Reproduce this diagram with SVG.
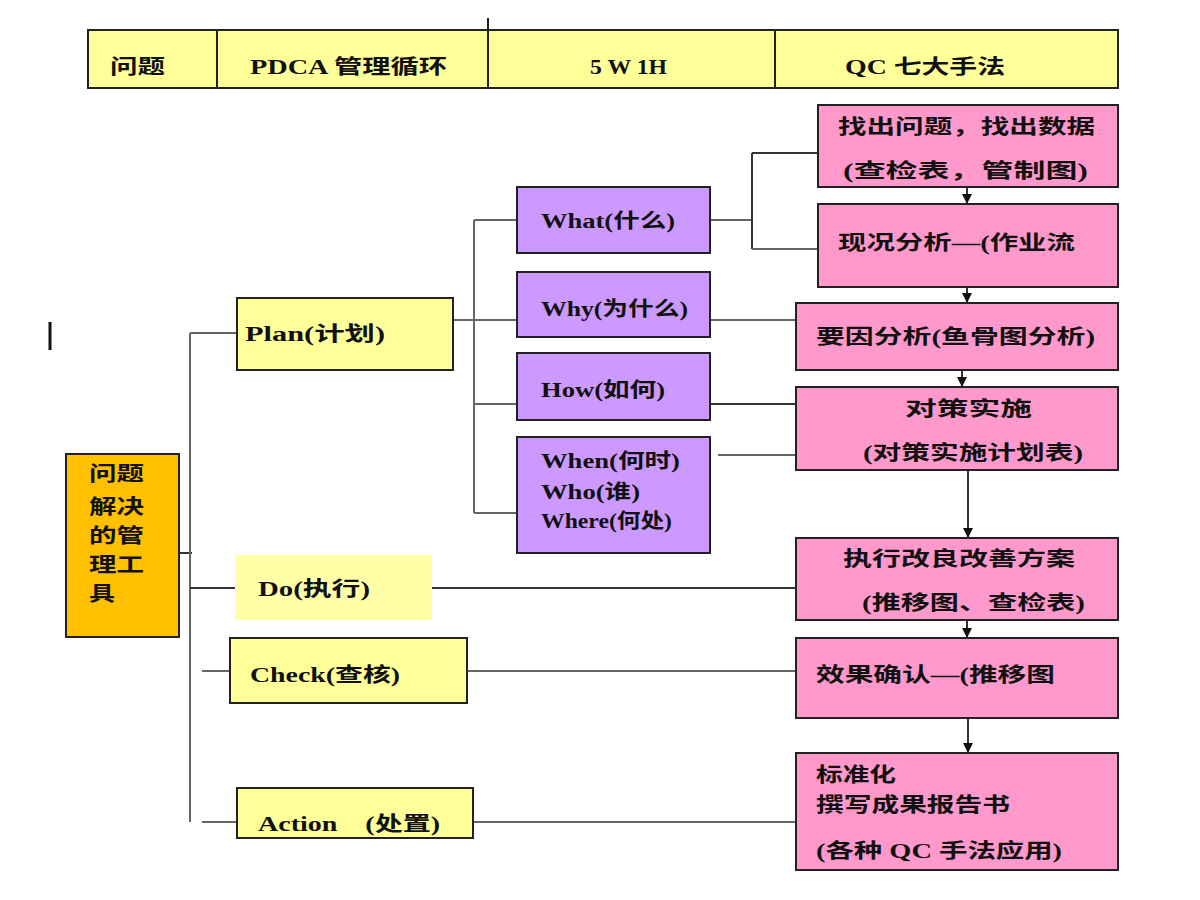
<svg xmlns="http://www.w3.org/2000/svg" width="1200" height="900" viewBox="0 0 1200 900">
<style>
text{font-family:"Liberation Serif","Noto Sans CJK SC",serif;font-weight:bold;font-size:20px;fill:#111}
.b{stroke:#222;stroke-width:2}
.y{fill:#FFFF99}
.p{fill:#CC99FF}
.k{fill:#FF99CC}
.c{stroke:#333;stroke-width:2;fill:none}
.cg{stroke:#666;stroke-width:2;fill:none}
</style>
<defs>
<marker id="ar" viewBox="0 0 10 10" refX="9" refY="5" markerWidth="5" markerHeight="5" orient="auto"><path d="M0,0 L10,5 L0,10 z" fill="#111"/></marker>
</defs>
<rect width="1200" height="900" fill="#fff"/>
<g id="header">
<rect x="88" y="30" width="1030" height="58" class="y b"/>
<line x1="217" y1="30" x2="217" y2="88" class="b"/>
<line x1="488" y1="18" x2="488" y2="88" class="b"/>
<line x1="775" y1="30" x2="775" y2="88" class="b"/>
<text x="110" y="74" textLength="55" lengthAdjust="spacingAndGlyphs">问题</text>
<text x="250" y="74" textLength="197" lengthAdjust="spacingAndGlyphs">PDCA 管理循环</text>
<text x="590" y="74" textLength="77" lengthAdjust="spacingAndGlyphs">5 W 1H</text>
<text x="845" y="74" textLength="160" lengthAdjust="spacingAndGlyphs">QC 七大手法</text>
</g>
<g id="connectors">
<line x1="50" y1="322" x2="50" y2="350" stroke="#111" stroke-width="3"/>
<line x1="173" y1="553" x2="192" y2="553" class="c"/>
<line x1="190" y1="333" x2="190" y2="822" class="cg"/>
<line x1="190" y1="333" x2="237" y2="333" class="cg"/>
<line x1="190" y1="588" x2="237" y2="588" class="c"/>
<line x1="202" y1="671" x2="230" y2="671" class="cg"/>
<line x1="202" y1="822" x2="237" y2="822" class="cg"/>
<line x1="453" y1="320" x2="517" y2="320" class="cg"/>
<line x1="474" y1="220" x2="474" y2="513" class="cg"/>
<line x1="474" y1="220" x2="517" y2="220" class="cg"/>
<line x1="474" y1="404" x2="517" y2="404" class="cg"/>
<line x1="474" y1="513" x2="517" y2="513" class="cg"/>
<line x1="710" y1="220" x2="752" y2="220" class="cg"/>
<line x1="752" y1="153" x2="752" y2="249" class="c"/>
<line x1="752" y1="153" x2="818" y2="153" class="c"/>
<line x1="752" y1="249" x2="818" y2="249" class="cg"/>
<line x1="710" y1="320" x2="796" y2="320" class="cg"/>
<line x1="710" y1="404" x2="796" y2="404" class="c"/>
<line x1="718" y1="455" x2="796" y2="455" class="cg"/>
<line x1="432" y1="588" x2="796" y2="588" class="c"/>
<line x1="467" y1="671" x2="796" y2="671" class="cg"/>
<line x1="473" y1="822" x2="796" y2="822" class="cg"/>
<line x1="967" y1="187" x2="967" y2="203" class="c" marker-end="url(#ar)"/>
<line x1="967" y1="287" x2="967" y2="302" class="c" marker-end="url(#ar)"/>
<line x1="962" y1="370" x2="962" y2="386" class="c" marker-end="url(#ar)"/>
<line x1="968" y1="470" x2="968" y2="537" class="c" marker-end="url(#ar)"/>
<line x1="967" y1="620" x2="967" y2="637" class="c" marker-end="url(#ar)"/>
<line x1="968" y1="718" x2="968" y2="752" class="c" marker-end="url(#ar)"/>
</g>
<g id="root">
<rect x="66" y="454" width="113" height="183" fill="#FFC000" class="b"/>
<text x="89" y="481" textLength="55" lengthAdjust="spacingAndGlyphs">问题</text>
<text x="89" y="514" textLength="55" lengthAdjust="spacingAndGlyphs">解决</text>
<text x="89" y="543" textLength="55" lengthAdjust="spacingAndGlyphs">的管</text>
<text x="89" y="572" textLength="55" lengthAdjust="spacingAndGlyphs">理工</text>
<text x="89" y="601" textLength="26" lengthAdjust="spacingAndGlyphs">具</text>
</g>
<g id="plan"><rect x="237" y="298" width="216" height="72" class="y b"/><text x="245" y="341" textLength="140" lengthAdjust="spacingAndGlyphs">Plan(计划)</text></g>
<g id="do"><rect x="235" y="555" width="197" height="65" fill="#FFFFA8"/><text x="258" y="596" textLength="112" lengthAdjust="spacingAndGlyphs">Do(执行)</text></g>
<g id="check"><rect x="230" y="638" width="237" height="65" class="y b"/><text x="250" y="682" textLength="150" lengthAdjust="spacingAndGlyphs">Check(查核)</text></g>
<g id="action"><rect x="237" y="788" width="236" height="50" class="y b"/><text x="258" y="831" textLength="182" lengthAdjust="spacingAndGlyphs">Action　(处置)</text></g>
<g id="what"><rect x="517" y="187" width="193" height="66" class="p b"/><text x="541" y="228" textLength="134" lengthAdjust="spacingAndGlyphs">What(什么)</text></g>
<g id="why"><rect x="517" y="272" width="193" height="65" class="p b"/><text x="541" y="316" textLength="147" lengthAdjust="spacingAndGlyphs">Why(为什么)</text></g>
<g id="how"><rect x="517" y="353" width="193" height="67" class="p b"/><text x="541" y="397" textLength="124" lengthAdjust="spacingAndGlyphs">How(如何)</text></g>
<g id="when"><rect x="517" y="437" width="193" height="116" class="p b"/>
<text x="541" y="468" textLength="139" lengthAdjust="spacingAndGlyphs">When(何时)</text>
<text x="541" y="499" textLength="99" lengthAdjust="spacingAndGlyphs">Who(谁)</text>
<text x="541" y="528" textLength="131" lengthAdjust="spacingAndGlyphs">Where(何处)</text></g>
<g id="k1"><rect x="818" y="105" width="300" height="82" class="k b"/>
<text x="838" y="134" textLength="257" lengthAdjust="spacingAndGlyphs">找出问题，找出数据</text>
<text x="843" y="178" textLength="245" lengthAdjust="spacingAndGlyphs">(查检表，管制图)</text></g>
<g id="k2"><rect x="818" y="204" width="300" height="83" class="k b"/>
<text x="838" y="250" textLength="237" lengthAdjust="spacingAndGlyphs">现况分析—(作业流</text></g>
<g id="k3"><rect x="796" y="303" width="322" height="67" class="k b"/>
<text x="816" y="344" textLength="279" lengthAdjust="spacingAndGlyphs">要因分析(鱼骨图分析)</text></g>
<g id="k4"><rect x="796" y="387" width="322" height="83" class="k b"/>
<text x="905" y="416" textLength="127" lengthAdjust="spacingAndGlyphs">对策实施</text>
<text x="863" y="460" textLength="220" lengthAdjust="spacingAndGlyphs">(对策实施计划表)</text></g>
<g id="k5"><rect x="796" y="538" width="322" height="82" class="k b"/>
<text x="843" y="566" textLength="232" lengthAdjust="spacingAndGlyphs">执行改良改善方案</text>
<text x="862" y="610" textLength="223" lengthAdjust="spacingAndGlyphs">(推移图、查检表)</text></g>
<g id="k6"><rect x="796" y="638" width="322" height="80" class="k b"/>
<text x="816" y="682" textLength="239" lengthAdjust="spacingAndGlyphs">效果确认—(推移图</text></g>
<g id="k7"><rect x="796" y="753" width="322" height="117" class="k b"/>
<text x="816" y="782" textLength="80" lengthAdjust="spacingAndGlyphs">标准化</text>
<text x="816" y="812" textLength="194" lengthAdjust="spacingAndGlyphs">撰写成果报告书</text>
<text x="816" y="858" textLength="246" lengthAdjust="spacingAndGlyphs">(各种 QC 手法应用)</text></g>
</svg>
